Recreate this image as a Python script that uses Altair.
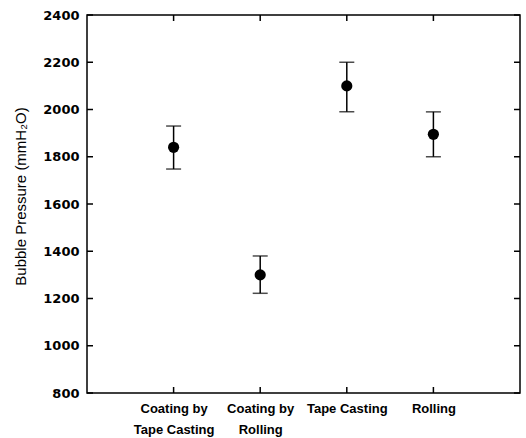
import altair as alt
import pandas as pd

categories = ["Coating by|Tape Casting", "Coating by|Rolling", "Tape Casting", "Rolling"]
positions = [1, 2, 3, 4]
pressure = [1840, 1300, 2100, 1895]
upper = [1930, 1380, 2200, 1990]
lower = [1748, 1222, 1990, 1800]
y_ticks = [800, 1000, 1200, 1400, 1600, 1800, 2000, 2200, 2400]

df = pd.DataFrame({"pos": positions, "cat": categories, "p": pressure,
                   "hi": upper, "lo": lower})
ydf = pd.DataFrame({"v": y_ticks})

expr = "''"
for p, c in zip(positions[::-1], categories[::-1]):
    expr = f"datum.value == {p} ? split('{c}', '|') : ({expr})"

FONT = "Liberation Sans"
W, H, TL = 433, 378, 6
xscale = alt.Scale(domain=[0, 5], nice=False, zero=False)
yscale = alt.Scale(domain=[800, 2400], nice=False, zero=False)

xaxis = alt.Axis(
    values=positions, labelExpr=expr, ticks=False, domain=False, grid=False,
    title=None, labelFont=FONT, labelFontSize=13, labelFontWeight="bold",
    labelColor="black", labelPadding=9, labelLineHeight=21, labelBaseline="top")
yaxis = alt.Axis(
    values=y_ticks, format="d", ticks=False, domain=False, grid=False,
    title="Bubble Pressure (mmH₂O)", titleFont=FONT, titleFontSize=15,
    titleFontWeight="normal", titleColor="black", titlePadding=14, titleY=181,
    labelFont="DejaVu Sans", labelFontSize=13, labelFontWeight="bold",
    labelColor="black", labelPadding=8)

base = alt.Chart(df)

main = base.mark_circle(size=125, color="black", opacity=1).encode(
    x=alt.X("pos:Q", scale=xscale, axis=xaxis),
    y=alt.Y("p:Q", scale=yscale, axis=yaxis),
)

rules = base.mark_rule(color="black", strokeWidth=1.5).encode(
    x=alt.X("pos:Q", scale=xscale, axis=xaxis),
    y=alt.Y("lo:Q", scale=yscale, axis=yaxis),
    y2="hi:Q",
)
cap_hi = base.mark_tick(color="black", orient="horizontal", size=15, thickness=1.5).encode(
    x=alt.X("pos:Q", scale=xscale, axis=xaxis),
    y=alt.Y("hi:Q", scale=yscale, axis=yaxis),
)
cap_lo = base.mark_tick(color="black", orient="horizontal", size=15, thickness=1.5).encode(
    x=alt.X("pos:Q", scale=xscale, axis=xaxis),
    y=alt.Y("lo:Q", scale=yscale, axis=yaxis),
)

# inward frame ticks, placed by the scales
yt = alt.Chart(ydf)
tick_left = yt.mark_rule(color="black", strokeWidth=1.5).encode(
    y=alt.Y("v:Q", scale=yscale, axis=yaxis), x=alt.value(0), x2=alt.value(TL))
tick_right = yt.mark_rule(color="black", strokeWidth=1.5).encode(
    y=alt.Y("v:Q", scale=yscale, axis=yaxis), x=alt.value(W - TL), x2=alt.value(W))
tick_bottom = base.mark_rule(color="black", strokeWidth=1.5).encode(
    x=alt.X("pos:Q", scale=xscale, axis=xaxis), y=alt.value(H - TL), y2=alt.value(H))
tick_top = base.mark_rule(color="black", strokeWidth=1.5).encode(
    x=alt.X("pos:Q", scale=xscale, axis=xaxis), y=alt.value(0), y2=alt.value(TL))

chart = alt.layer(main, rules, cap_hi, cap_lo,
                  tick_left, tick_right, tick_bottom, tick_top).properties(
    width=W, height=H,
    autosize=alt.AutoSizeParams(type="none"),
    padding={"left": 87, "top": 15, "right": 6, "bottom": 45},
    background="white",
).configure_view(stroke="black", strokeWidth=1.5)

chart.save("out.html", embed_options={"renderer": "svg", "actions": False})
